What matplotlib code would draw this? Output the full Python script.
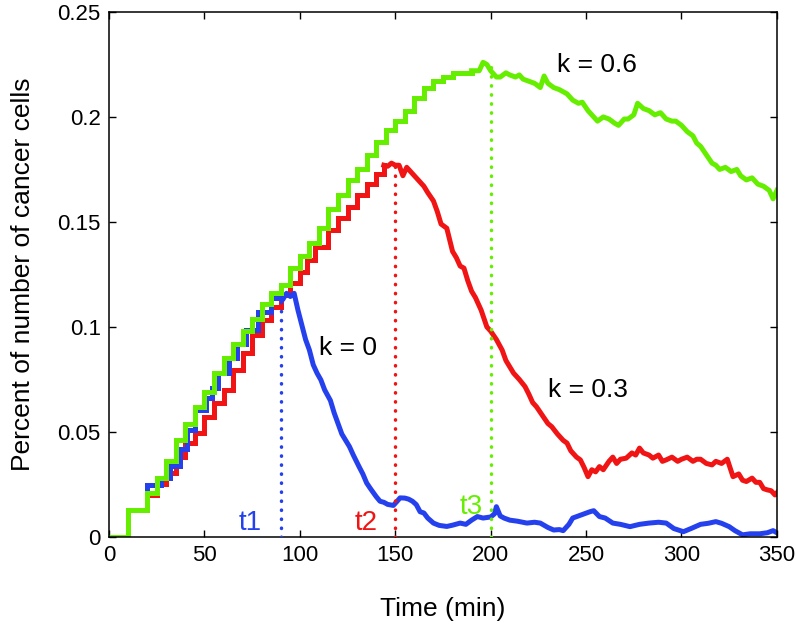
import numpy as np
import matplotlib
matplotlib.use("Agg")
import matplotlib.pyplot as plt

plt.rcParams.update({"font.family": ["Liberation Sans", "DejaVu Sans"],
                     "font.size": 15})

BLUE = "#2541ee"
RED = "#f01414"
GREEN = "#66ee00"

# ---- k = 0 (blue): staircase rise, then noisy decay
blue_rise_t = [0, 10, 20, 27, 32, 37, 41, 45, 51, 54, 57, 63, 67, 72, 78, 85, 89]
blue_rise_y = [0, 0.013, 0.0248, 0.028, 0.034, 0.042, 0.051, 0.0605, 0.066, 0.071,
               0.078, 0.085, 0.092, 0.0986, 0.107, 0.1138, 0.114]
blue_t = [89, 91, 93, 95, 97, 99, 101, 103, 105, 107, 109, 111, 113, 116, 118, 120,
          122, 124, 126, 128, 131, 133, 135, 137, 140, 142, 144, 146, 149, 151, 152.5,
          155, 157, 159, 161, 163, 165, 167, 170, 173, 177, 180, 184, 187, 190, 193,
          196, 200, 202, 203, 205, 207, 210, 214, 219, 223, 226, 230, 233, 236, 238,
          241, 243, 246, 249, 252, 254, 257, 260, 264, 268, 273, 278, 283, 288, 292,
          296, 301, 305, 310, 314, 318, 321, 325, 328, 332, 336, 341, 345, 348, 350]
blue_y = [0.114, 0.113, 0.116, 0.1145, 0.116, 0.108, 0.101, 0.094, 0.089, 0.082,
          0.078, 0.0748, 0.070, 0.065, 0.059, 0.054, 0.049, 0.046, 0.043, 0.039,
          0.0335, 0.030, 0.0257, 0.023, 0.0192, 0.017, 0.0165, 0.0155, 0.0150, 0.017,
          0.0186, 0.0185, 0.018, 0.017, 0.0154, 0.012, 0.0114, 0.009, 0.0066, 0.0055,
          0.005, 0.0056, 0.0066, 0.006, 0.008, 0.0097, 0.009, 0.0095, 0.011, 0.0144,
          0.010, 0.009, 0.008, 0.0075, 0.0066, 0.0070, 0.0066, 0.0045, 0.0033, 0.0035,
          0.003, 0.006, 0.009, 0.010, 0.011, 0.012, 0.0125, 0.0097, 0.009, 0.0066,
          0.006, 0.0049, 0.006, 0.0066, 0.0070, 0.0066, 0.004, 0.0025, 0.004, 0.006,
          0.0065, 0.0073, 0.0065, 0.0049, 0.003, 0.001, 0.0015, 0.0015, 0.002, 0.003,
          0.002]

# ---- k = 0.3 (red)
red_rise_t = [0, 10, 20, 25, 30, 35, 40, 45, 50, 55, 60, 65, 70, 75, 80, 85, 90, 95,
              100, 104, 108, 115, 120, 125, 130, 135, 140, 144]
red_rise_y = [0, 0.013, 0.020, 0.025, 0.0305, 0.038, 0.0447, 0.0495, 0.0573, 0.0638,
              0.070, 0.0795, 0.0876, 0.096, 0.1033, 0.1097, 0.115, 0.121, 0.126,
              0.132, 0.138, 0.146, 0.152, 0.157, 0.163, 0.168, 0.173, 0.177]
red_t = [144, 146, 148, 150, 152, 154, 156, 158, 160, 163, 165, 167, 170, 172, 174,
         177, 180, 182, 184, 186, 188, 190, 192, 195, 198, 200, 203, 206, 208, 210,
         212, 215, 218, 220, 222, 224, 227, 230, 232, 235, 238, 240, 242, 245, 247,
         249, 251, 253, 255, 257, 259, 262, 264, 266, 268, 271, 274, 276, 278, 280,
         283, 285, 288, 290, 292, 295, 298, 300, 303, 306, 308, 310, 313, 316, 318,
         321, 324, 327, 330, 332, 334, 337, 339, 341, 343, 345, 347, 349, 350]
red_y = [0.177, 0.1765, 0.178, 0.177, 0.177, 0.172, 0.176, 0.174, 0.172, 0.169,
         0.167, 0.164, 0.160, 0.155, 0.149, 0.147, 0.136, 0.133, 0.129, 0.128, 0.122,
         0.117, 0.114, 0.108, 0.100, 0.098, 0.094, 0.089, 0.084, 0.081, 0.078, 0.075,
         0.0716, 0.068, 0.064, 0.062, 0.058, 0.054, 0.0525, 0.049, 0.046, 0.0447,
         0.041, 0.038, 0.0367, 0.033, 0.0287, 0.032, 0.031, 0.0335, 0.032, 0.036,
         0.038, 0.035, 0.037, 0.0375, 0.040, 0.039, 0.0423, 0.040, 0.039, 0.0375,
         0.039, 0.036, 0.0367, 0.038, 0.036, 0.037, 0.038, 0.036, 0.037, 0.037, 0.035,
         0.0343, 0.036, 0.035, 0.037, 0.0287, 0.030, 0.027, 0.0264, 0.028, 0.026,
         0.026, 0.023, 0.0224, 0.022, 0.020, 0.021]

# ---- k = 0.6 (green)
green_rise_t = [0, 10, 20, 25, 30, 35, 40, 45, 50, 55, 60, 65, 70, 75, 80, 85, 90, 95,
                100, 105, 110, 115, 120, 125, 130, 135, 140, 145, 150, 155, 160, 165,
                170, 175, 180, 185, 190]
green_rise_y = [0, 0.013, 0.021, 0.028, 0.036, 0.046, 0.054, 0.062, 0.069, 0.078,
                0.085, 0.092, 0.098, 0.104, 0.111, 0.116, 0.120, 0.128, 0.134, 0.140,
                0.147, 0.156, 0.163, 0.170, 0.175, 0.182, 0.188, 0.194, 0.198, 0.203,
                0.209, 0.214, 0.217, 0.219, 0.221, 0.221, 0.222]
green_t = [190, 194, 196, 198, 200, 203, 205, 208, 210, 213, 215, 217, 220, 223, 226,
           228, 230, 233, 236, 240, 243, 246, 248, 251, 254, 256, 259, 262, 265, 267,
           270, 272, 275, 277, 280, 283, 286, 289, 292, 295, 297, 300, 303, 306, 308,
           310, 313, 316, 318, 320, 323, 326, 329, 331, 334, 337, 340, 343, 346, 348,
           350]
green_y = [0.222, 0.222, 0.226, 0.225, 0.222, 0.219, 0.219, 0.221, 0.220, 0.219,
           0.220, 0.218, 0.217, 0.216, 0.214, 0.2195, 0.216, 0.214, 0.213, 0.211,
           0.208, 0.2065, 0.207, 0.203, 0.200, 0.198, 0.200, 0.199, 0.197, 0.196,
           0.199, 0.199, 0.201, 0.2065, 0.204, 0.203, 0.201, 0.202, 0.199, 0.198,
           0.198, 0.196, 0.193, 0.191, 0.1875, 0.186, 0.182, 0.178, 0.177, 0.175,
           0.176, 0.174, 0.175, 0.172, 0.170, 0.171, 0.168, 0.167, 0.165, 0.161, 0.165]

# peak times and their heights
peak_t = [90, 150, 200]
peak_y = [0.115, 0.177, 0.225]
peak_lbl = ["t1", "t2", "t3"]

fig = plt.figure(figsize=(7.96, 6.28), dpi=100)
ax = fig.add_axes([0.137, 0.145, 0.839, 0.836])

lw = 3.6
for rt, ry, t, y, c in [(red_rise_t, red_rise_y, red_t, red_y, RED),
                        (blue_rise_t, blue_rise_y, blue_t, blue_y, BLUE),
                        (green_rise_t, green_rise_y, green_t, green_y, GREEN)]:
    ax.plot(rt, ry, drawstyle="steps-post", color=c, lw=lw,
            solid_joinstyle="miter")
    ax.plot(t, y, color=c, lw=lw, solid_joinstyle="round")

cols = [BLUE, RED, GREEN]
lbl_x = [80, 141, 196]
lbl_y = [0.0067, 0.0067, 0.0144]
for pt, py, lab, lx, ly, c in zip(peak_t, peak_y, peak_lbl, lbl_x, lbl_y, cols):
    ax.plot([pt, pt], [0, py], color=c, lw=2.5, linestyle=(0, (0.1, 2.5)),
            dash_capstyle="round", zorder=4)
    ax.text(lx, ly, lab, color=c, fontsize=20, ha="right", va="center")

ax.text(110, 0.09, "k = 0", fontsize=19, ha="left", va="center")
ax.text(230, 0.07, "k = 0.3", fontsize=19, ha="left", va="center")
ax.text(235, 0.2245, "k = 0.6", fontsize=19, ha="left", va="center")

ax.set_xlim(0, 350)
ax.set_ylim(0, 0.25)
ax.set_xticks(np.arange(0, 351, 50))
ax.set_yticks([0, 0.05, 0.1, 0.15, 0.2, 0.25])
ax.set_yticklabels(["0", "0.05", "0.1", "0.15", "0.2", "0.25"])
ax.tick_params(direction="in", length=5, width=1, top=True, right=True,
               labelsize=16, pad=6)
for s in ax.spines.values():
    s.set_linewidth(1.1)
ax.set_xlabel("Time (min)", fontsize=19, labelpad=22)
ax.set_ylabel("Percent of number of cancer cells", fontsize=19, labelpad=16)

fig.savefig("out.png", dpi=100)
